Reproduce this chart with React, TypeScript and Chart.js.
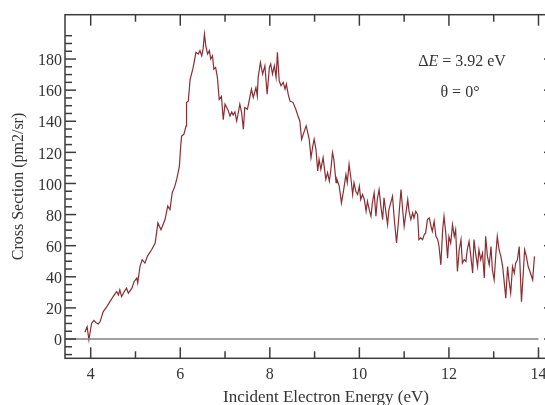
import React, { useEffect, useRef } from 'react';
import { Chart, registerables } from 'chart.js';

Chart.register(...registerables);

// Incident electron energy (eV)
const energies = [
  3.87, 3.92, 3.96, 4.02, 4.07, 4.12, 4.17, 4.21, 4.28, 4.36, 4.43, 4.50, 4.58, 4.62, 4.65, 4.69,
  4.75, 4.80, 4.84, 4.92, 4.97, 5.03, 5.05, 5.10, 5.15, 5.21, 5.27, 5.36, 5.44, 5.50, 5.57, 5.66,
  5.72, 5.77, 5.82, 5.88, 5.92, 5.98, 6.01, 6.03, 6.08, 6.13, 6.14, 6.18, 6.22, 6.28, 6.31, 6.35,
  6.40, 6.44, 6.48, 6.51, 6.54, 6.57, 6.61, 6.65, 6.68, 6.72, 6.75, 6.79, 6.83, 6.87, 6.92, 6.96,
  7.00, 7.07, 7.11, 7.15, 7.18, 7.22, 7.26, 7.29, 7.33, 7.37, 7.41, 7.44, 7.50, 7.56, 7.59, 7.63,
  7.69, 7.72, 7.74, 7.79, 7.84, 7.89, 7.94, 7.99, 8.02, 8.06, 8.10, 8.14, 8.17, 8.21, 8.25, 8.30,
  8.34, 8.37, 8.41, 8.45, 8.52, 8.58, 8.63, 8.67, 8.71, 8.76, 8.81, 8.84, 8.88, 8.92, 8.96, 8.99,
  9.03, 9.07, 9.10, 9.14, 9.19, 9.25, 9.29, 9.33, 9.36, 9.40, 9.43, 9.48, 9.50, 9.55, 9.60, 9.65,
  9.70, 9.73, 9.77, 9.81, 9.85, 9.88, 9.92, 9.96, 10.00, 10.03, 10.07, 10.11, 10.15, 10.18, 10.22, 10.26,
  10.29, 10.33, 10.37, 10.40, 10.44, 10.48, 10.52, 10.55, 10.59, 10.63, 10.66, 10.70, 10.74, 10.78, 10.83, 10.87,
  10.93, 10.96, 11.00, 11.04, 11.08, 11.11, 11.15, 11.19, 11.22, 11.26, 11.30, 11.33, 11.37, 11.41, 11.45, 11.48,
  11.52, 11.56, 11.60, 11.63, 11.67, 11.71, 11.75, 11.78, 11.82, 11.86, 11.89, 11.93, 11.97, 12.00, 12.04, 12.08,
  12.12, 12.15, 12.19, 12.23, 12.27, 12.30, 12.34, 12.38, 12.41, 12.45, 12.49, 12.53, 12.56, 12.60, 12.64, 12.67,
  12.71, 12.75, 12.79, 12.82, 12.86, 12.90, 12.94, 12.97, 13.01, 13.05, 13.08, 13.12, 13.16, 13.20, 13.23, 13.27,
  13.31, 13.34, 13.38, 13.42, 13.46, 13.49, 13.53, 13.57, 13.62, 13.66, 13.69, 13.73, 13.77, 13.81, 13.87, 13.91,
];

// Cross section (pm2/sr)
const crossSection = [
  4.3, 7.9, -0.5, 10, 12, 10.5, 9.7, 11.2, 17.6, 20.8, 24, 27.3, 30.5, 28.4, 31.6, 27.3,
  30.5, 32.7, 29.5, 32.7, 37, 39.2, 36, 46.6, 51, 48.8, 53.5, 57.4, 61.7, 74.6, 70.3, 76.8,
  85.4, 83.2, 94, 98.3, 102.6, 111, 124, 130.5, 131.6, 137, 152, 153, 167, 173.5, 177.8, 184.3,
  183.2, 185.4, 182, 186.5, 196, 188.6, 183.2, 185.4, 180, 182, 173.5, 174.6, 168, 154, 156, 141,
  151, 147, 143.4, 146, 144, 146, 140.2, 144.5, 151, 145.6, 134.8, 148.8, 147.7, 156.3, 160.6, 155.3,
  161.7, 156.3, 168.2, 177.8, 170.3, 175.7, 157.4, 174.6, 176.8, 170.3, 175.7, 168.2, 184.3, 166, 162.8, 165,
  160.6, 163.9, 157.4, 153, 152, 147.7, 143.4, 140.2, 128.4, 132.7, 137, 133.7, 128.4, 116.6, 124, 128.4,
  122, 108, 115.5, 109, 116.6, 102.6, 107, 101.5, 108, 119.8, 115.5, 100.5, 102.6, 98.3, 87.5, 96,
  105.8, 100.5, 112.3, 103.7, 92.9, 100.5, 95, 92.9, 98.3, 89.7, 92.9, 89.7, 82.1, 88.6, 83.2, 78.9,
  87.5, 94, 78.9, 89.7, 96, 85.4, 76.8, 90.8, 82.1, 73.5, 83.2, 87.5, 91.8, 76.8, 61.7, 74.6,
  96.1, 85.4, 72.5, 81.1, 89.7, 82.1, 76.8, 81.1, 77.9, 82.1, 80, 63.9, 65, 63.9, 67.1, 68.2,
  76.8, 77.9, 72.5, 69.2, 75.7, 66, 63.9, 59.5, 47.7, 70.3, 78.9, 68.2, 52, 66, 61.7, 73.5,
  66, 70.3, 43.4, 57.4, 63.9, 48.8, 51, 49.9, 57.4, 62.8, 53.1, 42.4, 63.9, 54.2, 46.6, 57.4,
  51, 55.3, 39.2, 66, 53.1, 47.7, 59.5, 44.5, 38, 55.3, 66, 57.4, 53.1, 46.6, 38, 26.3,
  46.6, 38, 29.5, 46.6, 42.4, 48.8, 51, 59.5, 24, 42.4, 57.4, 53.1, 46.6, 43.4, 38, 53.1,
];

const xMajorTicks = [4, 6, 8, 10, 12, 14];
const xMinorTicks = [5, 7, 9, 11, 13];
const yMajorTicks = [0, 20, 40, 60, 80, 100, 120, 140, 160, 180];
const yMinorTicks = [
  -10, -5, 5, 10, 15, 25, 30, 35, 45, 50, 55, 65, 70, 75, 85, 90, 95, 105, 110, 115,
  125, 130, 135, 145, 150, 155, 165, 170, 175, 185, 190, 195,
];

const X_MIN = 3.426;
const X_MAX = 14.369;
const Y_MIN = -12.4;
const Y_MAX = 208.5;

const baselineX = [X_MIN, 14];
const baselineY = [0, 0];

const xTitle = 'Incident Electron Energy (eV)';
const yTitle = 'Cross Section (pm2/sr)';
const annotationLine1 = ['Δ', 'E', ' = 3.92 eV'];
const annotationLine2 = 'θ = 0°';

const FONT = '"Liberation Serif", "Times New Roman", serif';
const TEXT = '#333333';
const FRAME = '#3c3c3c';

const framePlugin = {
  id: 'frameAndTicks',
  afterDraw(chart: any) {
    const { ctx, chartArea, scales } = chart;
    const { left, top, right, bottom } = chartArea;
    const xs = scales.x;
    const ys = scales.y;
    ctx.save();
    ctx.strokeStyle = FRAME;
    ctx.lineWidth = 1.5;
    ctx.strokeRect(left, top, right - left, bottom - top);
    const seg = (x1: number, y1: number, x2: number, y2: number) => {
      ctx.beginPath();
      ctx.moveTo(x1, y1);
      ctx.lineTo(x2, y2);
      ctx.stroke();
    };
    const xt = (v: number, len: number) => {
      const p = xs.getPixelForValue(v);
      seg(p, bottom, p, bottom - len);
      seg(p, top, p, top + len);
    };
    const yt = (v: number, len: number) => {
      const p = ys.getPixelForValue(v);
      seg(left, p, left + len, p);
      seg(right, p, right - len, p);
    };
    xMajorTicks.forEach((v) => xt(v, 11));
    xMinorTicks.forEach((v) => xt(v, 7));
    yMajorTicks.forEach((v) => yt(v, 11));
    yMinorTicks.forEach((v) => yt(v, 7));

    // x axis title
    ctx.fillStyle = TEXT;
    ctx.font = `17px ${FONT}`;
    ctx.textAlign = 'center';
    ctx.textBaseline = 'alphabetic';
    ctx.fillText(xTitle, 326, 402);

    // annotation
    ctx.font = `16px ${FONT}`;
    const fonts = [`16px ${FONT}`, `italic 16px ${FONT}`, `16px ${FONT}`];
    let total = 0;
    const widths = annotationLine1.map((t, i) => {
      ctx.font = fonts[i];
      const w = ctx.measureText(t).width;
      total += w;
      return w;
    });
    let cx = 462 - total / 2;
    ctx.textAlign = 'left';
    annotationLine1.forEach((t, i) => {
      ctx.font = fonts[i];
      ctx.fillText(t, cx, 66);
      cx += widths[i];
    });
    ctx.font = `16px ${FONT}`;
    ctx.textAlign = 'center';
    ctx.fillText(annotationLine2, 460, 96.5);
    ctx.restore();
  },
};

export default function App() {
  const ref = useRef<HTMLCanvasElement>(null);

  useEffect(() => {
    if (!ref.current) return;
    const chart = new Chart(ref.current, {
      type: 'line',
      data: {
        datasets: [
          {
            label: 'baseline',
            data: baselineX.map((x, i) => ({ x, y: baselineY[i] })),
            borderColor: '#808080',
            borderWidth: 1.5,
            pointRadius: 0,
            tension: 0,
          },
          {
            label: 'cross section',
            data: energies.map((x, i) => ({ x, y: crossSection[i] })),
            borderColor: '#8c2d32',
            borderWidth: 1.2,
            pointRadius: 0,
            tension: 0,
          },
        ],
      },
      plugins: [framePlugin],
      options: {
        responsive: false,
        devicePixelRatio: 1,
        animation: false,
        layout: { padding: { left: 0, top: 14.7, right: 5, bottom: 0 } },
        plugins: {
          legend: { display: false },
          tooltip: { enabled: false },
        },
        scales: {
          x: {
            type: 'linear',
            min: X_MIN,
            max: X_MAX,
            grid: { display: false, drawTicks: false },
            border: { display: false },
            afterBuildTicks: (axis: any) => {
              axis.ticks = xMajorTicks.map((v) => ({ value: v }));
            },
            afterFit: (s: any) => {
              s.height = 46.7;
              s.paddingLeft = 0;
              s.paddingRight = 0;
            },
            ticks: {
              autoSkip: false,
              maxRotation: 0,
              padding: 7,
              color: TEXT,
              font: { family: FONT, size: 16 },
            },
          },
          y: {
            type: 'linear',
            min: Y_MIN,
            max: Y_MAX,
            grid: { display: false, drawTicks: false },
            border: { display: false },
            afterBuildTicks: (axis: any) => {
              axis.ticks = yMajorTicks.map((v) => ({ value: v }));
            },
            afterFit: (s: any) => {
              s.width = 65;
              s.paddingTop = 0;
              s.paddingBottom = 0;
            },
            ticks: {
              autoSkip: false,
              padding: 3,
              labelOffset: 2,
              color: TEXT,
              font: { family: FONT, size: 16 },
            },
            title: {
              display: true,
              text: yTitle,
              color: TEXT,
              font: { family: FONT, size: 16 },
              padding: { top: 9, bottom: 0 },
            },
          },
        },
      },
    });
    return () => chart.destroy();
  }, []);

  return (
    <div style={{ position: 'fixed', left: 0, top: 0, width: 545, height: 405, overflow: 'hidden', background: '#fff' }}>
      <canvas ref={ref} width={560} height={405} style={{ display: 'block', width: 560, height: 405 }} />
    </div>
  );
}
